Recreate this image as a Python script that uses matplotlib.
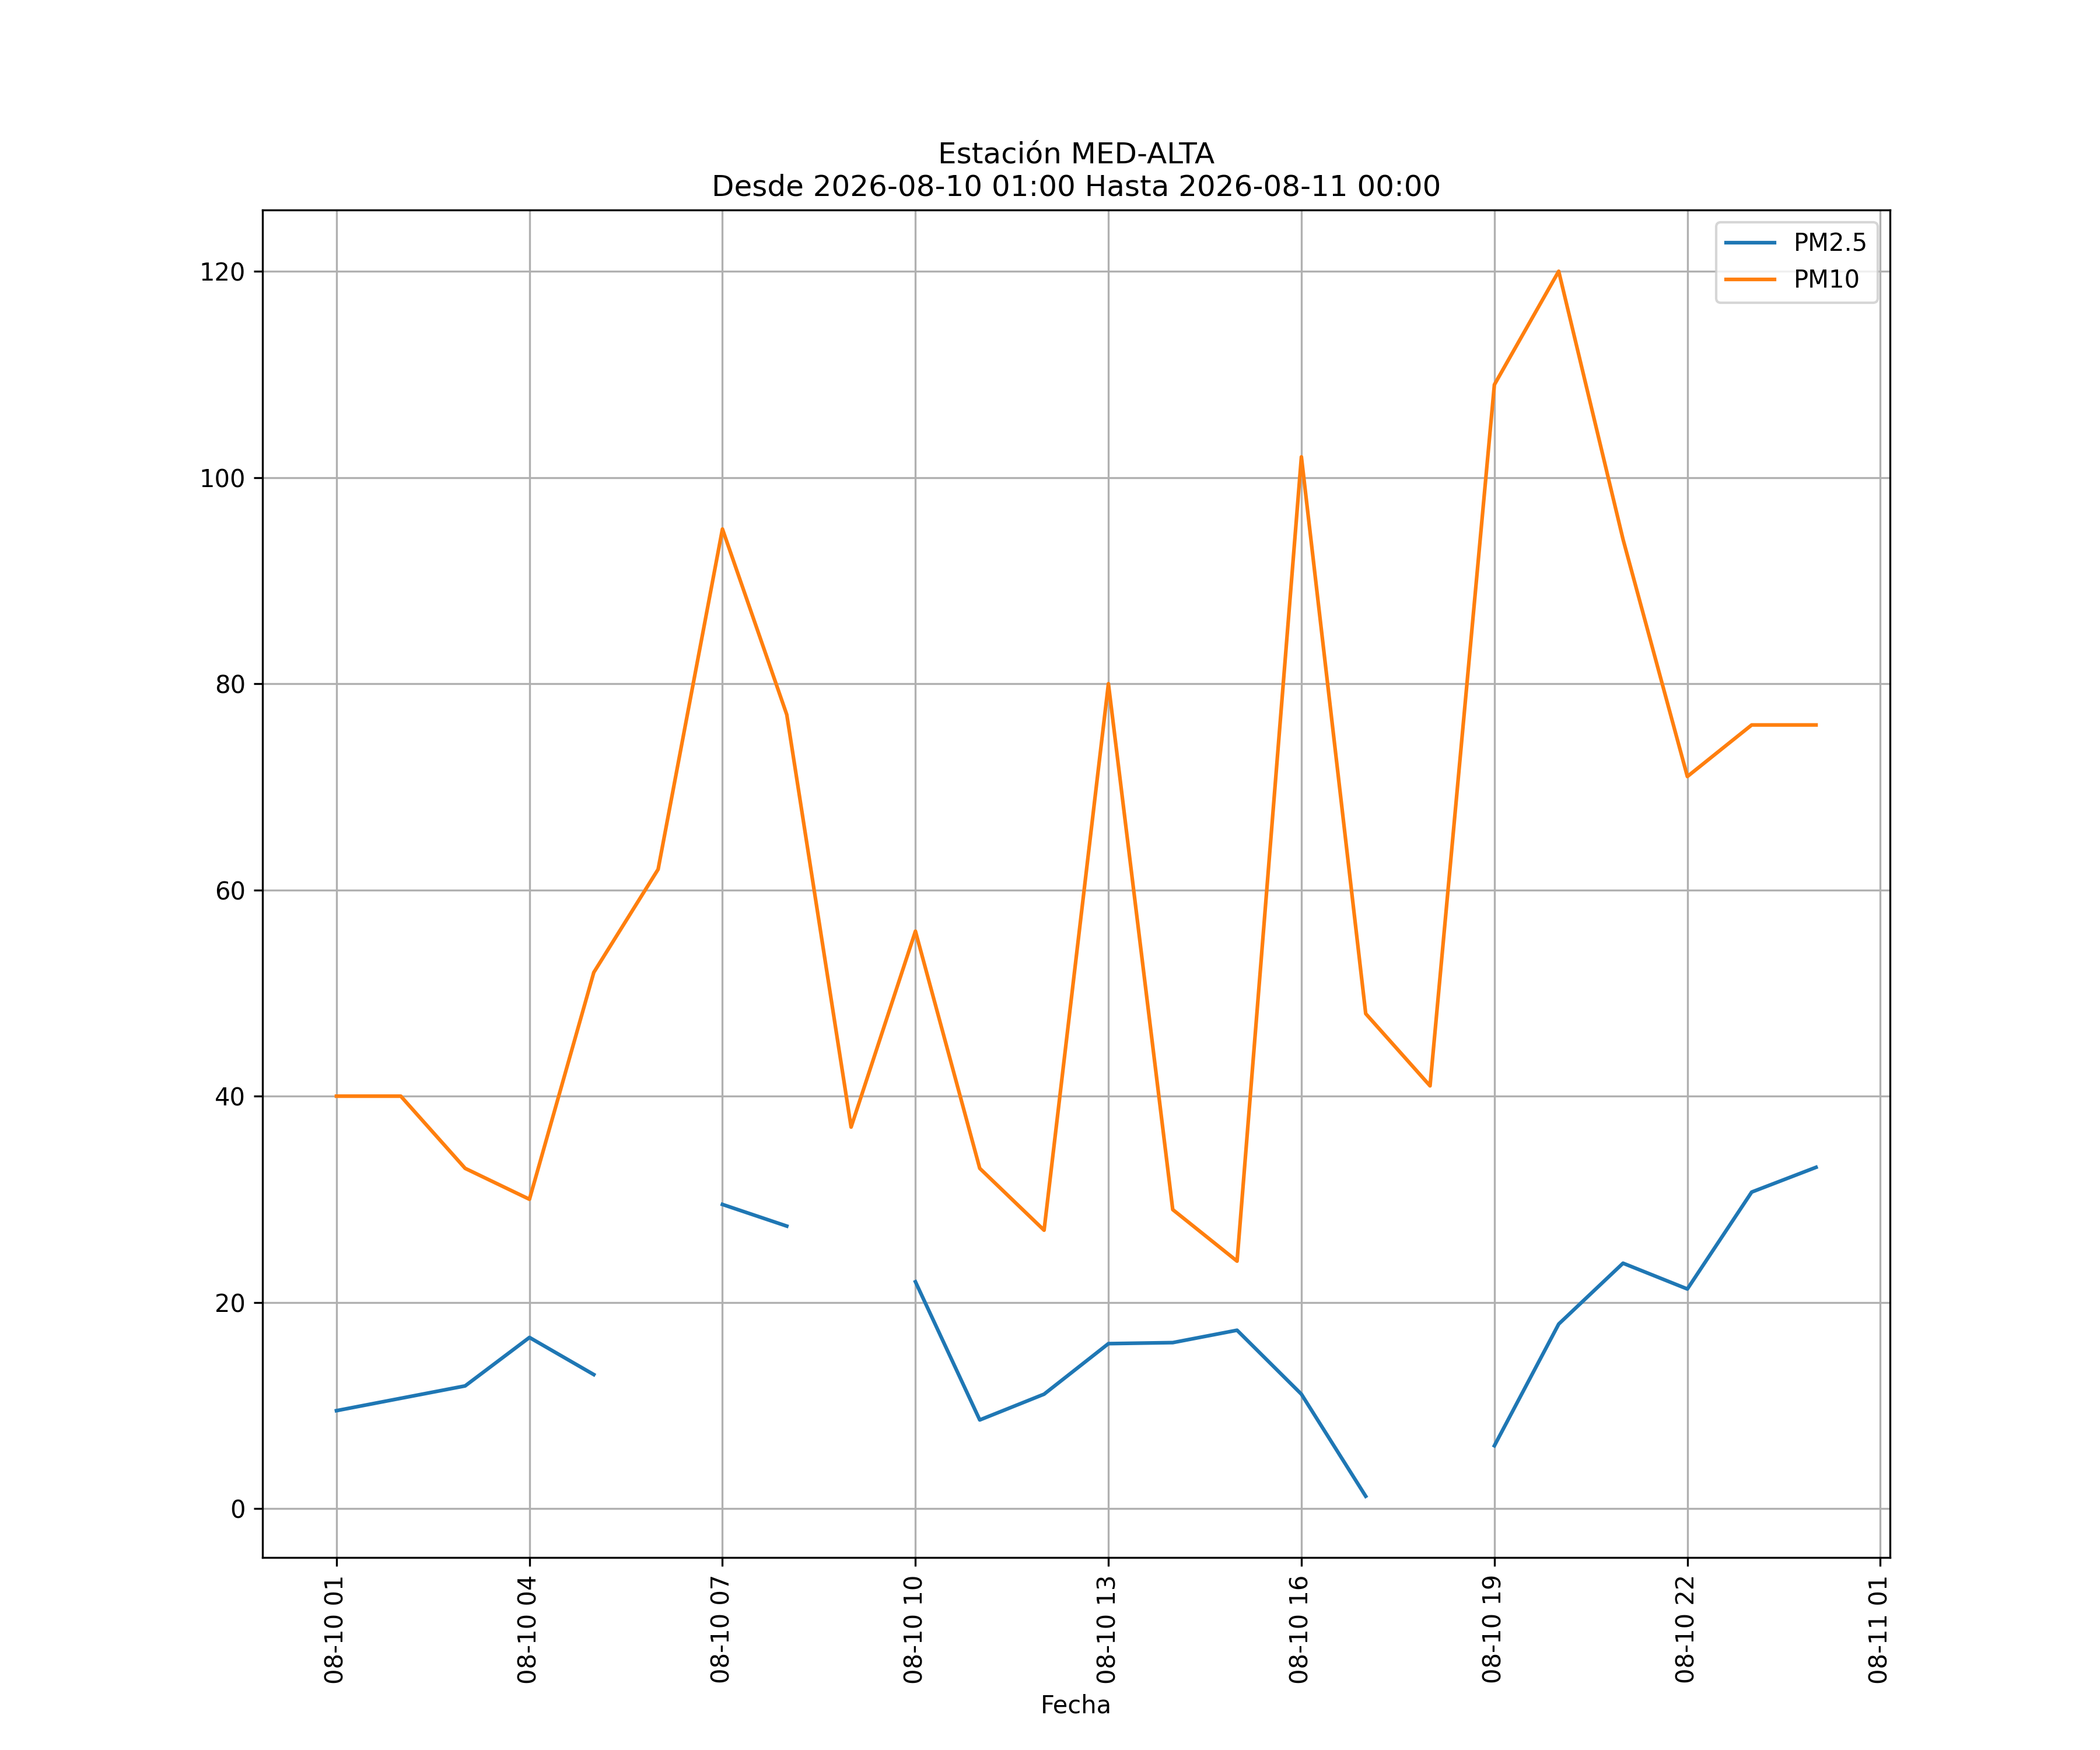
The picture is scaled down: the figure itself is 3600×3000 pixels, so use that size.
import matplotlib
matplotlib.use("Agg")
import matplotlib.pyplot as plt
import matplotlib.dates as mdates
import pandas as pd
import numpy as np

times = pd.date_range("2026-08-10 01:00", "2026-08-11 00:00", freq="h")
pm25 = [9.5, 10.7, 11.9, 16.6, 13.0, np.nan, 29.5, 27.4, np.nan, 22.0, 8.6, 11.1,
        16.0, 16.1, 17.3, 11.1, 1.2, np.nan, 6.1, 17.9, 23.8, 21.3, 30.7, 33.1]
pm10 = [40, 40, 33, 30, 52, 62, 95, 77, 37, 56, 33, 27,
        80, 29, 24, 102, 48, 41, 109, 120, 94, 71, 76, 76]

fig, ax = plt.subplots(figsize=(12, 10), dpi=300)
ax.plot(times, pm25, label="PM2.5")
ax.plot(times, pm10, label="PM10")
ax.set_title("Estación MED-ALTA\nDesde 2026-08-10 01:00 Hasta 2026-08-11 00:00")
ax.set_xlabel("Fecha")
ax.xaxis.set_major_locator(mdates.HourLocator(byhour=range(1, 24, 3)))
ax.xaxis.set_major_formatter(mdates.DateFormatter("%m-%d %H"))
plt.setp(ax.get_xticklabels(), rotation=90)
ax.grid(True)
ax.legend(loc="upper right")
fig.savefig("out.png")
